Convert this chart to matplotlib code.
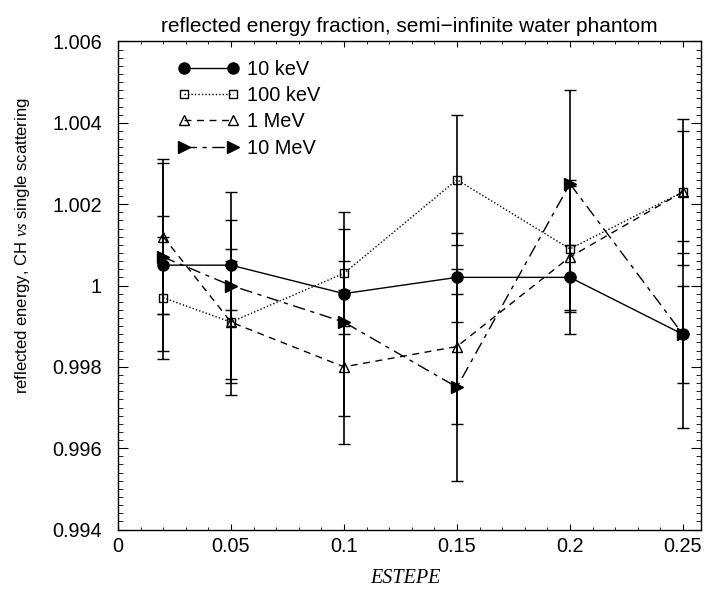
import matplotlib
matplotlib.use("Agg")
import matplotlib.pyplot as plt
from matplotlib.ticker import MultipleLocator, FuncFormatter

# ESTEPE values
estepe = [0.02, 0.05, 0.1, 0.15, 0.2, 0.25]

# reflected energy ratio and errors per energy
kev10 = [1.0005, 1.0005, 0.9998, 1.0002, 1.0002, 0.9988]
kev10_err = [0.0012, 0.0011, 0.0008, 0.0011, 0.0008, 0.0012]
kev100 = [0.9997, 0.9991, 1.0003, 1.0026, 1.0009, 1.0023]
kev100_err = [0.0015, 0.0018, 0.0015, 0.0016, 0.00155, 0.0018]
mev1 = [1.0012, 0.9991, 0.9980, 0.9985, 1.0007, 1.0023]
mev1_err = [0.0019, 0.0015, 0.0019, 0.0019, 0.0019, 0.0015]
mev10 = [1.0007, 1.0000, 0.9991, 0.9975, 1.0025, 0.9988]
mev10_err = [0.0023, 0.0023, 0.0023, 0.0023, 0.0023, 0.0023]

labels = ["10 keV", "100 keV", "1 MeV", "10 MeV"]

plt.rcParams["font.family"] = ["Liberation Sans", "DejaVu Sans"]
plt.rcParams["mathtext.fontset"] = "custom"
plt.rcParams["mathtext.it"] = "Liberation Serif:italic"
plt.rcParams["mathtext.rm"] = "Liberation Sans"

fig = plt.figure(figsize=(7.06, 5.9), dpi=100)
ax = fig.add_axes([0.1671, 0.1024, 0.8258, 0.8274])

series = [
    (kev10, kev10_err, dict(marker="o", ms=8, mfc="black", ls="-")),
    (kev100, kev100_err, dict(marker="s", ms=5.8, mfc="none", ls=(0, (1, 1.5)))),
    (mev1, mev1_err, dict(marker="^", ms=7.5, mfc="none", ls=(0, (5, 4)))),
    (mev10, mev10_err, dict(marker=">", ms=8, mfc="black", ls=(0, (9, 4, 3, 4)))),
]

handles = []
for (vals, errs, st), lab in zip(series, labels):
    ax.errorbar(estepe, vals, yerr=errs, fmt="none", ecolor="black",
                elinewidth=1.2, capsize=4.3, capthick=1.0, zorder=2)
    h, = ax.plot(estepe, vals, color="black", lw=1.0, mec="black",
                 mew=1.0, label=lab, zorder=3, **st)
    handles.append(h)

ax.set_xlim(0, 0.258)
ax.set_ylim(0.994, 1.006)
ax.xaxis.set_major_locator(MultipleLocator(0.05))
ax.xaxis.set_minor_locator(MultipleLocator(0.01))
ax.yaxis.set_major_locator(MultipleLocator(0.002))
ax.yaxis.set_minor_locator(MultipleLocator(0.0002))
fmt = FuncFormatter(lambda v, p: "%g" % round(v, 6))
ax.xaxis.set_major_formatter(fmt)
ax.yaxis.set_major_formatter(fmt)

ax.tick_params(which="both", direction="in", top=True, right=True,
               labelsize=14.3, color="black")
ax.tick_params(axis="y", which="major", length=7, pad=11.5)
ax.tick_params(axis="y", which="minor", length=3.5)
ax.tick_params(axis="x", which="major", length=4, pad=5.5)
ax.tick_params(axis="x", which="minor", length=2.2)
for sp in ax.spines.values():
    sp.set_linewidth(1.0)

fig.text(0.5804, 1 - 26 / 590,
         "reflected energy fraction, semi\u2212infinite water phantom",
         fontsize=15, ha="center", va="center")
ax.set_xlabel("ESTEPE", fontsize=14.5, family="Liberation Serif",
              style="italic", va="center")
ax.xaxis.set_label_coords(0.493, -0.1)
ax.set_ylabel(r"reflected energy, CH $\mathit{vs}$ single scattering",
              fontsize=12, va="center")
ax.yaxis.set_label_coords(-0.163, 0.581)

ax.legend(handles=handles, loc="upper left", bbox_to_anchor=(0.0886, 0.979),
          frameon=False, numpoints=2, handlelength=3.05, handletextpad=0.4,
          labelspacing=0.37, fontsize=14.4, borderaxespad=0)

fig.savefig("out.png", dpi=100)
